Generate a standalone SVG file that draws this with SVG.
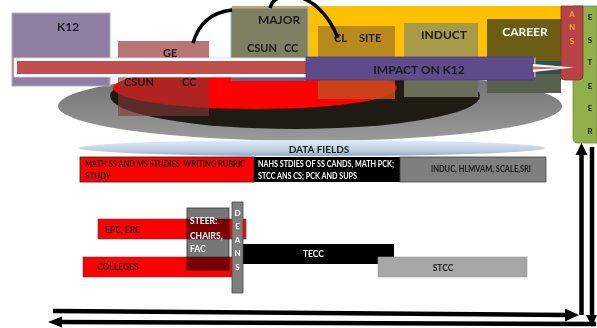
<svg xmlns="http://www.w3.org/2000/svg" width="597" height="328" viewBox="0 0 597 328">
<defs>
<style>
.t{font-family:Lato,"Liberation Sans",sans-serif;font-weight:bold;fill:#1a1a1a}
.w{fill:#ffffff}
.s12{font-size:12px}
.s11{font-size:11px}
.s8{font-size:8px}
.s9{font-size:8.5px}
.c{stroke:#000;fill:none}
</style>
<linearGradient id="gGray" x1="0" y1="0" x2="0" y2="1">
<stop offset="0" stop-color="#6e6e6e"/><stop offset="1" stop-color="#9a9a9a"/>
</linearGradient>
<linearGradient id="gData" x1="0" y1="0" x2="0" y2="1">
<stop offset="0" stop-color="#e4ecf5"/><stop offset="0.7" stop-color="#b9cbe0"/><stop offset="1" stop-color="#8ea6c2"/>
</linearGradient>
</defs>
<rect width="597" height="328" fill="#ffffff"/>

<g id="ellipses">
<ellipse cx="310" cy="106" rx="252" ry="35" fill="url(#gGray)"/>
<ellipse cx="295" cy="96" rx="185" ry="33" fill="#1e1b12"/>
<ellipse cx="255" cy="88" rx="142" ry="21" fill="#ff0000"/>
</g>

<g id="orange-bg"><rect x="232" y="6" width="329" height="54" fill="#ffc000"/><rect x="232" y="6" width="76" height="2" fill="#c9a030"/></g>

<g id="k12"><rect x="12" y="13" width="98" height="73" fill="#8e7fa3" stroke="#b9aec8" stroke-width="1"/>
<text class="t s12" x="57" y="31">K12</text></g>

<g id="ge"><rect x="118" y="41" width="91" height="20" fill="#b97575"/>
<rect x="118" y="74" width="91" height="42" fill="rgb(132,54,54)" fill-opacity="0.63"/>
<text class="t s11" x="163" y="57">GE</text>
<text class="t s11" x="124" y="86">CSUN</text><text class="t s11" x="182" y="86">CC</text></g>

<g id="major"><rect x="231" y="8" width="77" height="53" fill="#7d8061" stroke="#9fb4cf" stroke-width="1"/>
<rect x="231" y="75" width="75" height="6" fill="#705c8c"/>
<text class="t s12" x="279" y="24" text-anchor="middle">MAJOR</text>
<text class="t s11" x="247" y="52">CSUN</text><text class="t s11" x="284" y="52">CC</text></g>

<g id="clsite"><rect x="318" y="26" width="77" height="36" fill="#b88a1c"/>
<rect x="318" y="62" width="77" height="37" fill="#c24e1c" fill-opacity="0.85"/>
<text class="t s11" x="334" y="42">CL</text><text class="t s11" x="359" y="42">SITE</text></g>

<g id="induct"><rect x="404" y="23" width="74" height="38" fill="#a89a48"/>
<rect x="404" y="61" width="74" height="36" fill="#6b6e58"/>
<text class="t s12" x="444" y="39" text-anchor="middle">INDUCT</text></g>

<g id="career"><rect x="487" y="19" width="74" height="42" fill="#6b5e14"/>
<rect x="487" y="61" width="74" height="32" fill="#5a6050"/>
<rect x="487" y="61" width="74" height="13" fill="#2f524e"/>
<text class="t s12 w" x="525" y="36" text-anchor="middle">CAREER</text></g>

<g id="bar"><rect x="15.5" y="59.5" width="518" height="16" fill="#c0504d" stroke="#ffffff" stroke-width="3"/>
<rect x="14" y="58" width="521" height="19" fill="none" stroke="#d9d9d9" stroke-width="0.8"/></g>

<g id="impact"><rect x="306" y="57" width="228" height="23" fill="#5f4b8b" stroke="#4c3a74" stroke-width="0.8"/>
<text class="t s12" x="419" y="74" text-anchor="middle">IMPACT ON  K12</text></g>

<g id="esteer"><path d="M573 6 H597 V143 H578 Q573 143 573 138 Z" fill="#8fb04a" stroke="#6f8f34" stroke-width="0.8"/>
<g class="t s8" text-anchor="middle"><text x="590" y="20">E</text><text x="590" y="43">S</text><text x="590" y="65">T</text><text x="590" y="89">E</text><text x="590" y="111">E</text><text x="590" y="134">R</text></g></g>

<g id="ans"><path d="M561 6 H583 V76 Q583 80 579 80 H565 Q561 80 561 76 Z" fill="#b64444" stroke="#8c2f2f" stroke-width="0.8"/>
<g class="t s8" text-anchor="middle" style="fill:#f2a93b"><text x="572" y="17">A</text><text x="572" y="30">N</text><text x="572" y="44">S</text></g></g>

<g id="bar-tip"><polygon points="533,64 574,67.5 533,72" fill="#ffffff"/><polygon points="533,66.5 566,68 533,69.5" fill="#d46a6a"/></g>

<g id="datafields"><ellipse cx="312" cy="148" rx="233" ry="8" fill="url(#gData)"/>
<text class="t" style="font-size:10px" x="319" y="153" text-anchor="middle">DATA FIELDS</text></g>

<g id="df-red"><rect x="80" y="157" width="174" height="25" fill="#ff0000" stroke="#222" stroke-width="0.8"/>
<text class="t s9" x="85" y="167" textLength="160" lengthAdjust="spacingAndGlyphs">MATH SS AND MS STUDIES; WRITING RUBRIC</text>
<text class="t s9" x="85" y="179" textLength="26" lengthAdjust="spacingAndGlyphs">STUDY</text></g>

<g id="df-black"><rect x="254" y="157" width="148" height="25" fill="#000"/>
<text class="t s9 w" x="258" y="167" textLength="136" lengthAdjust="spacingAndGlyphs">NAHS STDIES OF SS CANDS, MATH PCK;</text>
<text class="t s9 w" x="258" y="179" textLength="99" lengthAdjust="spacingAndGlyphs">STCC ANS CS; PCK AND SUPS</text></g>

<g id="df-gray"><rect x="400" y="157" width="146" height="25" fill="#7f7f7f" stroke="#444" stroke-width="0.8"/>
<text class="t s9" x="431" y="172" textLength="100" lengthAdjust="spacingAndGlyphs">INDUC, HLMVAM, SCALE,SRI</text></g>

<g id="epc"><rect x="98" y="219" width="148" height="20" fill="#ff0000" stroke="#444" stroke-width="0.6"/>
<text class="t s9" x="105" y="233">EPC, ERC</text></g>

<g id="colleges"><rect x="83" y="257" width="149" height="20" fill="#ff0000" stroke="#444" stroke-width="0.6"/>
<text class="t s9" x="97" y="270">COLLEGES</text></g>

<g id="tecc"><rect x="243" y="244" width="151" height="20" fill="#000"/>
<text class="t s9 w" x="303" y="257">TECC</text></g>

<g id="stcc"><rect x="378" y="257" width="149" height="20" fill="#a6a6a6" stroke="#999" stroke-width="0.6"/>
<text class="t s9" x="443" y="271" text-anchor="middle">STCC</text></g>

<g id="steer"><rect x="187" y="208" width="42" height="62" fill="#777777" stroke="#333" stroke-width="0.8" style="mix-blend-mode:multiply"/>
<text class="t s9 w" x="190" y="224">STEER:</text>
<text class="t s9 w" x="190" y="239">CHAIRS,</text>
<text class="t s9 w" x="190" y="252">FAC</text></g>

<g id="deans"><rect x="232" y="202" width="11" height="91" fill="#7f7f7f" stroke="#444" stroke-width="0.8"/>
<g class="t s8 w" text-anchor="middle"><text x="237.5" y="216">D</text><text x="237.5" y="229">E</text><text x="237.5" y="243">A</text><text x="237.5" y="256">N</text><text x="237.5" y="270">S</text></g></g>

<g id="connectors">
<path class="c" d="M193 43 Q201.5 13.5 232 10" stroke-width="3.5"/>
<path class="c" d="M270 8 C275 -12 318 -12 338 38" stroke-width="3.5"/>
<line x1="581.5" y1="154" x2="581.5" y2="315" stroke="#000" stroke-width="4.5"/>
<polygon points="575.5,155 581.5,143 587.5,155" fill="#000"/>
<line x1="592" y1="147" x2="592" y2="316" stroke="#000" stroke-width="4.5"/>
<polygon points="586,315 592,327 597,315" fill="#000"/>
<path d="M53 311 L566 315" stroke="#000" stroke-width="4.5" fill="none"/>
<polygon points="565,308.5 579,315 565,321.5" fill="#000"/>
<path d="M596 324 L60 322" stroke="#000" stroke-width="4.5" fill="none"/>
<polygon points="62,316.5 48,322 62,327.5" fill="#000"/>
</g>
</svg>
